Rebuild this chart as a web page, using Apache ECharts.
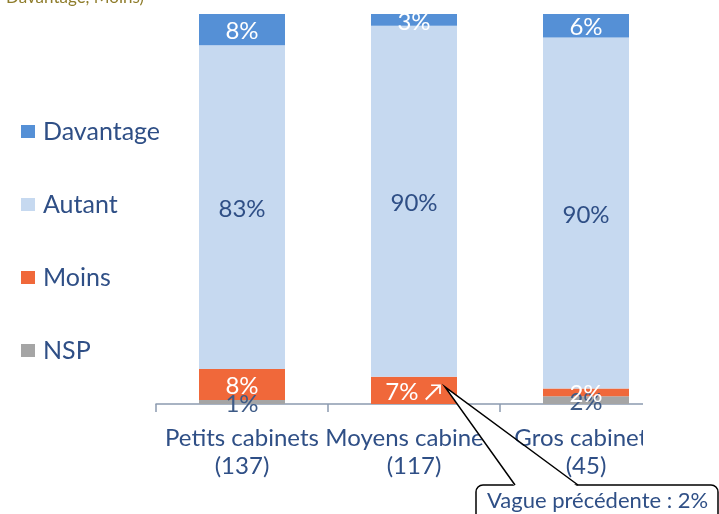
<!DOCTYPE html>
<head>
    <meta charset="utf-8">
    <title>ECharts</title>
    <style>
        html, body { margin: 0; padding: 0; background: #fff; }
    </style>
</head>
<body>
    <div id="main" style="height:514px;width:719px"></div>
    <script src="https://cdn.jsdelivr.net/npm/echarts@6/dist/echarts.min.js"></script>
    <script type="text/javascript">

    // données
    var categories = ['Petits cabinets\n(137)', 'Moyens cabinets\n(117)', 'Gros cabinets\n(45)'];
    var nsp = [1, 0, 2];
    var moins = [8, 7, 2];
    var autant = [83, 90, 90];
    var davantage = [8, 3, 6];
    var moinsMarks = ['', ' \u2197', ''];   // évolution significative
    var rappel = 'Vague précédente : 2%';
    var sousTitre = 'Davantage, Moins)';

    var font = 'Lato, "Open Sans", sans-serif';
    var textBlue = '#2f4f86';

    var myChart = echarts.init(document.getElementById('main'));

    function serie(name, data, color, labelColor, marks) {
        return {
            name: name,
            type: 'bar',
            stack: 'total',
            barWidth: '50%',
            data: data,
            itemStyle: { color: color },
            label: {
                show: true,
                position: 'inside',
                offset: [0, 2],
                color: labelColor,
                fontFamily: font,
                fontSize: 24,
                formatter: function (p) {
                    if (!p.value) return '';
                    return p.value + '%' + (marks ? marks[p.dataIndex] : '');
                }
            }
        };
    }

    var option = {
        animation: false,
        textStyle: { fontFamily: font },
        legend: {
            orient: 'vertical',
            left: 16,
            top: 114,
            itemWidth: 14,
            itemHeight: 13,
            itemGap: 48,
            icon: 'rect',
            selectedMode: false,
            data: ['Davantage', 'Autant', 'Moins', 'NSP'],
            textStyle: { color: textBlue, fontSize: 25, fontFamily: font, padding: [0, 0, 0, 3] }
        },
        grid: { left: 156, right: 47, top: 14, bottom: 110 },
        xAxis: {
            type: 'category',
            data: categories,
            axisLine: { lineStyle: { color: '#8c9bb0', width: 1.5 } },
            axisTick: { show: true, length: 8, lineStyle: { color: '#8c9bb0', width: 1.5 } },
            axisLabel: {
                color: textBlue,
                fontSize: 24,
                fontFamily: font,
                lineHeight: 28,
                margin: 20,
                interval: 0
            }
        },
        yAxis: { type: 'value', min: 0, max: 100, show: false },
        series: [
            serie('NSP', nsp, '#a5a5a5', '#3d5a86'),
            serie('Moins', moins, '#f0683a', '#ffffff', moinsMarks),
            serie('Autant', autant, '#c6d9f0', textBlue),
            serie('Davantage', davantage, '#5590d6', '#ffffff')
        ],
        graphic: [
            // haut du graphique coupé
            { type: 'rect', z: 100, shape: { x: 150, y: 0, width: 569, height: 14 }, style: { fill: '#fff' } },
            { type: 'text', z: 101, x: 6, y: -2, style: { text: sousTitre, fill: '#8f7d2c', font: '17px ' + font, verticalAlign: 'middle' } },
            // bord droit coupé
            { type: 'rect', z: 100, shape: { x: 643, y: 396, width: 76, height: 85 }, style: { fill: '#fff' } },
            // bulle de rappel
            { type: 'rect', z: 102, shape: { x: 476, y: 485, width: 242, height: 60, r: 7 }, style: { fill: '#fff', stroke: '#000', lineWidth: 1.5 } },
            { type: 'polygon', z: 103, shape: { points: [[515, 487], [445, 387], [578, 487]] }, style: { fill: '#fff' } },
            { type: 'polyline', z: 104, shape: { points: [[515, 485], [445, 387], [578, 485]] }, style: { fill: null, stroke: '#000', lineWidth: 1.5 } },
            { type: 'text', z: 105, x: 487, y: 501, style: { text: rappel, fill: textBlue, font: '22px ' + font, verticalAlign: 'middle' } }
        ]
    };
    myChart.setOption(option);
    </script>
</body>
